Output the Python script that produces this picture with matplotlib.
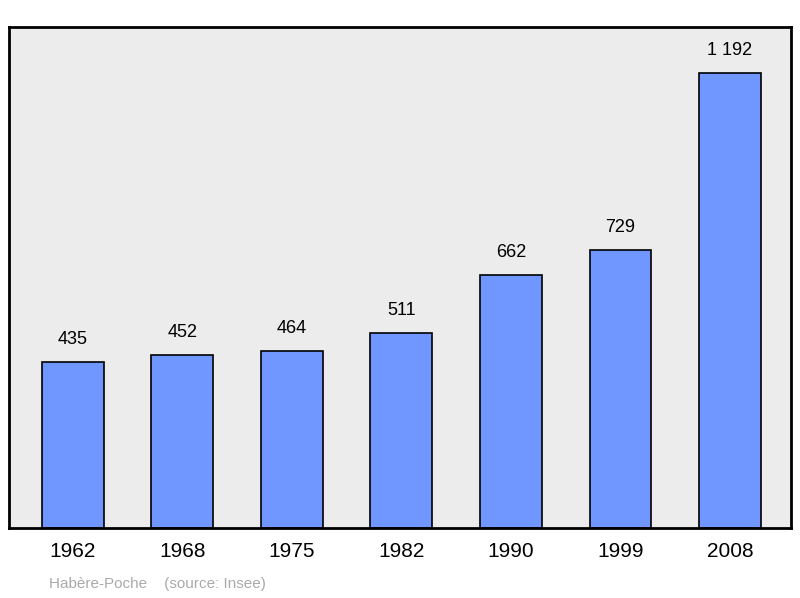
import matplotlib
matplotlib.use("Agg")
import matplotlib.pyplot as plt

years = ["1962", "1968", "1975", "1982", "1990", "1999", "2008"]
values = [435, 452, 464, 511, 662, 729, 1192]
labels = ["435", "452", "464", "511", "662", "729", "1 192"]

plt.rcParams['font.family'] = ['Liberation Sans', 'DejaVu Sans']
fig = plt.figure(figsize=(8, 5.98), dpi=100)
ax = fig.add_axes([9/800, 1-528/598, 782/800, 501/598])
ax.set_facecolor('#ececec')
x = list(range(len(years)))
ax.bar(x, values, width=0.566, color='#7097ff', edgecolor='black', linewidth=1.2)
for xi, v, l in zip(x, values, labels):
    ax.text(xi, v + 1192*14/455, l, ha='center', va='bottom', fontsize=13)
ax.set_xlim(-0.584, 6.557)
ax.set_ylim(0, 1312.5)
ax.set_yticks([])
ax.set_xticks(x)
ax.set_xticklabels(years, fontsize=15)
ax.tick_params(axis='x', length=0, pad=10)
for s in ax.spines.values():
    s.set_linewidth(2)
fig.text(49/800, 1-584/598, "Habère-Poche    (source: Insee)", fontsize=11, color='#aaaaaa', va='center')
fig.savefig("out.png")
